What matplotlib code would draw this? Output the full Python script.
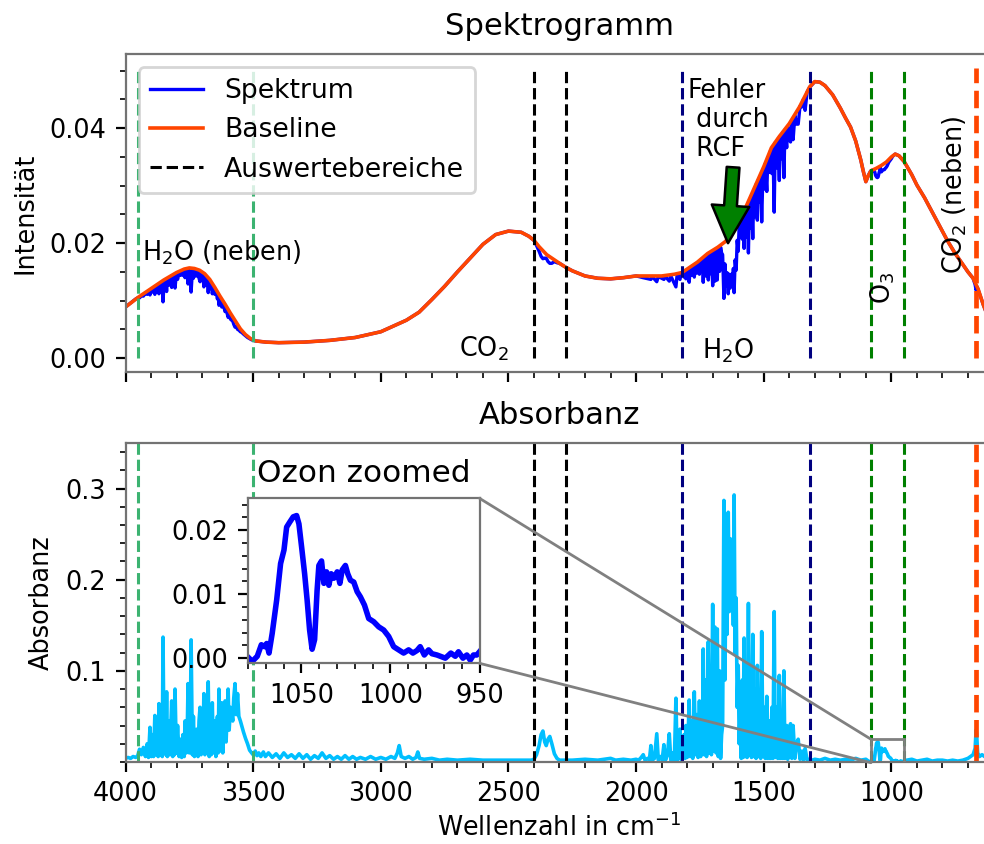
import numpy as np
import matplotlib
matplotlib.use('Agg')
import matplotlib.pyplot as plt
from matplotlib.ticker import MultipleLocator
from matplotlib.patches import Rectangle, ConnectionPatch

plt.rcParams['font.family'] = ['DejaVu Sans']
plt.rcParams['font.size'] = 9.2
plt.rcParams['mathtext.default'] = 'regular'

# ---------------- data ----------------
baseline_wn = [4000, 3950, 3900, 3850, 3800, 3770, 3750, 3730, 3710, 3690, 3670, 3650, 3630, 3610,
               3590, 3570, 3550, 3530, 3510, 3490, 3450, 3400, 3300, 3200, 3100, 3000, 2950, 2900,
               2850, 2800, 2750, 2700, 2650, 2600, 2550, 2500, 2450, 2420, 2400, 2380, 2350, 2300,
               2275, 2250, 2200, 2150, 2100, 2050, 2000, 1950, 1900, 1850, 1820, 1800, 1760, 1720,
               1680, 1650, 1620, 1600, 1570, 1540, 1500, 1470, 1440, 1400, 1360, 1320, 1300, 1280,
               1260, 1230, 1200, 1180, 1160, 1140, 1120, 1110, 1100, 1090, 1080, 1060, 1040, 1020,
               1000, 985, 970, 950, 920, 900, 870, 840, 810, 780, 750, 720, 700, 680, 660, 640, 620, 600]
baseline_val = [0.0089, 0.0106, 0.0121, 0.0136, 0.0149, 0.0155, 0.0157, 0.0156, 0.0153, 0.0147, 0.0137,
                0.0123, 0.0108, 0.0094, 0.0079, 0.0065, 0.0051, 0.0041, 0.0034, 0.0030, 0.0028, 0.0027,
                0.0028, 0.0031, 0.0036, 0.0046, 0.0056, 0.0066, 0.0080, 0.0102, 0.0125, 0.0150, 0.0174,
                0.0198, 0.0215, 0.0221, 0.0219, 0.0212, 0.0205, 0.0194, 0.0180, 0.0165, 0.0158, 0.0152,
                0.0143, 0.0139, 0.0138, 0.0140, 0.0143, 0.0143, 0.0143, 0.0146, 0.0149, 0.0155, 0.0167,
                0.0182, 0.0193, 0.0203, 0.0220, 0.0238, 0.0263, 0.0293, 0.0333, 0.0366, 0.0385, 0.0408,
                0.0437, 0.0472, 0.0481, 0.0480, 0.0474, 0.0458, 0.0435, 0.0418, 0.0402, 0.0378, 0.0345,
                0.0325, 0.0307, 0.0318, 0.0326, 0.0330, 0.0335, 0.0341, 0.0350, 0.0355, 0.0352, 0.0342,
                0.0319, 0.0301, 0.0279, 0.0254, 0.0229, 0.0204, 0.0182, 0.0163, 0.0150, 0.0139, 0.0120,
                0.0093, 0.0070, 0.0050]

spectrum_wn = [4000, 3960, 3952, 3945, 3938, 3930, 3922, 3915, 3910, 3904, 3899, 3894, 3890, 3885, 3880,
               3875, 3872, 3869, 3864, 3858, 3856, 3853, 3849, 3844, 3842, 3839, 3836, 3830, 3826, 3819,
               3815, 3810, 3808, 3806, 3801, 3796, 3790, 3785, 3780, 3775, 3770, 3767, 3762, 3758, 3755,
               3750, 3746, 3743, 3738, 3734, 3730, 3726, 3721, 3716, 3712, 3708, 3704, 3700, 3697, 3693,
               3689, 3684, 3680, 3676, 3672, 3668, 3664, 3660, 3656, 3650, 3646, 3640, 3637, 3634, 3629,
               3623, 3619, 3614, 3610, 3606, 3602, 3598, 3594, 3589, 3584, 3580, 3576, 3571, 3566, 3561,
               3556, 3550, 3545, 3538, 3530, 3522, 3514, 3506, 3500, 3490, 3450, 3400, 3300, 3200, 3100,
               3000, 2950, 2900, 2850, 2800, 2750, 2700, 2650, 2600, 2550, 2500, 2450, 2420, 2400, 2390,
               2380, 2372, 2365, 2358, 2352, 2345, 2338, 2330, 2320, 2310, 2300, 2275, 2250, 2200, 2150,
               2100, 2050, 2000, 1990, 1972, 1942, 1937, 1919, 1913, 1891, 1885, 1870, 1864, 1844, 1839,
               1828, 1823, 1812, 1808, 1805, 1800, 1792, 1788, 1783, 1778, 1772, 1767, 1762, 1757, 1752,
               1747, 1742, 1740, 1737, 1733, 1728, 1724, 1717, 1713, 1709, 1705, 1700, 1696, 1691, 1687,
               1682, 1678, 1673, 1669, 1665, 1661, 1656, 1652, 1648, 1644, 1639, 1635, 1631, 1627, 1622,
               1619, 1616, 1612, 1608, 1604, 1600, 1596, 1592, 1588, 1584, 1581, 1577, 1573, 1569, 1565,
               1560, 1556, 1552, 1548, 1543, 1539, 1534, 1530, 1525, 1521, 1516, 1512, 1508, 1503, 1498,
               1494, 1488, 1484, 1478, 1474, 1468, 1464, 1459, 1455, 1449, 1445, 1439, 1435, 1430, 1426,
               1421, 1417, 1410, 1406, 1400, 1395, 1390, 1385, 1378, 1372, 1365, 1358, 1350, 1345, 1338,
               1330, 1320, 1300, 1280, 1260, 1230, 1200, 1180, 1160, 1140, 1120, 1110, 1100, 1090, 1082,
               1075, 1070, 1066, 1064, 1062, 1058, 1055, 1052, 1050, 1048, 1046, 1044, 1041, 1039, 1036,
               1033, 1030, 1027, 1024, 1020, 1017, 1014, 1010, 1005, 1000, 995, 985, 970, 950, 920, 900,
               870, 840, 810, 780, 750, 720, 700, 680, 672, 668, 664, 660, 640, 620, 600]
spectrum_val = [0.0089, 0.0103, 0.0105, 0.0105, 0.0108, 0.0108, 0.0113, 0.0111, 0.0117, 0.0110, 0.0119,
                0.0115, 0.0122, 0.0111, 0.0125, 0.0117, 0.0127, 0.0112, 0.0130, 0.0125, 0.0132, 0.0098,
                0.0133, 0.0123, 0.0136, 0.0116, 0.0138, 0.0127, 0.0139, 0.0123, 0.0143, 0.0133, 0.0144,
                0.0122, 0.0146, 0.0137, 0.0149, 0.0144, 0.0151, 0.0144, 0.0153, 0.0140, 0.0152, 0.0144,
                0.0129, 0.0153, 0.0143, 0.0115, 0.0153, 0.0139, 0.0154, 0.0143, 0.0143, 0.0152, 0.0139,
                0.0133, 0.0149, 0.0138, 0.0146, 0.0124, 0.0144, 0.0128, 0.0139, 0.0114, 0.0136, 0.0121,
                0.0131, 0.0112, 0.0124, 0.0111, 0.0118, 0.0103, 0.0110, 0.0092, 0.0104, 0.0089, 0.0098,
                0.0088, 0.0081, 0.0087, 0.0078, 0.0071, 0.0076, 0.0068, 0.0066, 0.0065, 0.0059, 0.0054,
                0.0055, 0.0050, 0.0049, 0.0046, 0.0045, 0.0042, 0.0039, 0.0036, 0.0034, 0.0032, 0.0031,
                0.0030, 0.0028, 0.0027, 0.0028, 0.0031, 0.0036, 0.0046, 0.0056, 0.0066, 0.0080, 0.0102,
                0.0125, 0.0150, 0.0174, 0.0198, 0.0215, 0.0221, 0.0219, 0.0212, 0.0205, 0.0196, 0.0186,
                0.0177, 0.0173, 0.0174, 0.0174, 0.0168, 0.0165, 0.0165, 0.0168, 0.0166, 0.0165, 0.0158,
                0.0152, 0.0143, 0.0139, 0.0138, 0.0140, 0.0143, 0.0142, 0.0140, 0.0137, 0.0142, 0.0133,
                0.0142, 0.0137, 0.0142, 0.0134, 0.0143, 0.0124, 0.0146, 0.0137, 0.0148, 0.0141, 0.0151,
                0.0138, 0.0154, 0.0132, 0.0156, 0.0144, 0.0160, 0.0141, 0.0162, 0.0148, 0.0167, 0.0146,
                0.0170, 0.0151, 0.0171, 0.0132, 0.0174, 0.0143, 0.0178, 0.0136, 0.0180, 0.0147, 0.0184,
                0.0126, 0.0184, 0.0134, 0.0187, 0.0136, 0.0190, 0.0151, 0.0193, 0.0183, 0.0180, 0.0104,
                0.0164, 0.0126, 0.0149, 0.0112, 0.0146, 0.0122, 0.0146, 0.0128, 0.0156, 0.0114, 0.0171,
                0.0153, 0.0205, 0.0186, 0.0232, 0.0215, 0.0245, 0.0207, 0.0252, 0.0191, 0.0259, 0.0210,
                0.0265, 0.0183, 0.0274, 0.0226, 0.0283, 0.0208, 0.0292, 0.0246, 0.0302, 0.0240, 0.0310,
                0.0272, 0.0320, 0.0237, 0.0328, 0.0294, 0.0338, 0.0290, 0.0349, 0.0323, 0.0360, 0.0321,
                0.0368, 0.0254, 0.0375, 0.0331, 0.0381, 0.0309, 0.0387, 0.0347, 0.0392, 0.0314, 0.0397,
                0.0366, 0.0403, 0.0381, 0.0376, 0.0413, 0.0380, 0.0422, 0.0407, 0.0407, 0.0438, 0.0437,
                0.0450, 0.0431, 0.0463, 0.0471, 0.0481, 0.0480, 0.0474, 0.0458, 0.0435, 0.0418, 0.0402,
                0.0378, 0.0345, 0.0325, 0.0307, 0.0318, 0.0325, 0.0327, 0.0326, 0.0325, 0.0322, 0.0318,
                0.0315, 0.0314, 0.0315, 0.0319, 0.0323, 0.0326, 0.0333, 0.0326, 0.0324, 0.0326, 0.0327,
                0.0328, 0.0328, 0.0330, 0.0332, 0.0334, 0.0337, 0.0341, 0.0344, 0.0347, 0.0351, 0.0355,
                0.0352, 0.0342, 0.0319, 0.0301, 0.0279, 0.0254, 0.0229, 0.0204, 0.0182, 0.0163, 0.0150,
                0.0139, 0.0128, 0.0118, 0.0124, 0.0119, 0.0093, 0.0070, 0.0050]

absorb_hi_wn = [4000, 3990, 3980, 3970, 3960, 3952, 3945, 3938, 3930, 3922, 3915, 3910, 3904, 3899, 3894,
                3890, 3885, 3880, 3875, 3872, 3869, 3864, 3858, 3856, 3853, 3849, 3844, 3842, 3839, 3836,
                3830, 3826, 3819, 3815, 3810, 3808, 3806, 3801, 3796, 3790, 3785, 3780, 3775, 3770, 3767,
                3762, 3758, 3755, 3750, 3746, 3743, 3738, 3734, 3730, 3726, 3721, 3716, 3712, 3708, 3704,
                3700, 3697, 3693, 3689, 3684, 3680, 3676, 3672, 3668, 3664, 3660, 3656, 3650, 3646, 3640,
                3637, 3634, 3629, 3623, 3619, 3614, 3610, 3606, 3602, 3598, 3594, 3589, 3584, 3580, 3576,
                3571, 3566, 3561, 3556, 3550, 3545, 3538, 3530, 3522, 3514, 3506, 3500, 3492, 3485, 3478,
                3470, 3460, 3452, 3440, 3425, 3410, 3395, 3380, 3365, 3350, 3335, 3320, 3305, 3290, 3275,
                3260, 3245, 3230, 3215, 3200, 3185, 3170, 3155, 3140, 3125, 3110, 3095, 3080, 3060, 3040,
                3020, 3000, 2980, 2960, 2945, 2935, 2928, 2920, 2905, 2890, 2875, 2862, 2855, 2848, 2830,
                2800, 2770, 2740, 2700, 2650, 2600, 2550, 2500, 2450, 2410, 2400, 2390, 2380, 2372, 2365,
                2358, 2352, 2345, 2338, 2330, 2320, 2310, 2300, 2280, 2250, 2200, 2150, 2100, 2080, 2050,
                2020, 2000, 1990, 1980, 1972, 1965, 1955, 1948, 1942, 1937, 1928, 1919, 1913, 1905, 1898,
                1891, 1885, 1877, 1870, 1864, 1856, 1850, 1844, 1839, 1833, 1828, 1823, 1818, 1812, 1808,
                1805, 1800, 1796, 1792, 1788, 1783, 1778, 1772, 1767, 1762, 1757, 1752, 1747, 1742, 1740,
                1737, 1733, 1728, 1724, 1717, 1713, 1709, 1705, 1700, 1696, 1691, 1687, 1682, 1678, 1673,
                1669, 1665, 1661, 1656, 1652, 1648, 1644, 1639, 1635, 1631, 1627, 1622, 1619, 1616, 1612,
                1608, 1604, 1600, 1596, 1592, 1588, 1584, 1581, 1577, 1573, 1569, 1565, 1560, 1556, 1552,
                1548, 1543, 1539, 1534, 1530, 1525, 1521, 1516, 1512, 1508, 1503, 1498, 1494, 1488, 1484,
                1478, 1474, 1468, 1464, 1459, 1455, 1449, 1445, 1439, 1435, 1430, 1426, 1421, 1417, 1410,
                1406, 1400, 1395, 1390, 1385, 1378, 1372, 1365, 1358, 1350, 1345, 1338, 1330, 1320, 1310,
                1300, 1280, 1260, 1240, 1220, 1200, 1180, 1160, 1140, 1120, 1100, 1090, 1082]
absorb_hi_val = [0.004, 0.005, 0.004, 0.006, 0.005, 0.007, 0.014, 0.008, 0.016, 0.006, 0.020, 0.005, 0.038,
                 0.006, 0.030, 0.006, 0.051, 0.008, 0.040, 0.006, 0.064, 0.008, 0.030, 0.006, 0.137, 0.010,
                 0.050, 0.008, 0.077, 0.006, 0.045, 0.008, 0.067, 0.006, 0.040, 0.008, 0.080, 0.010, 0.040,
                 0.006, 0.025, 0.005, 0.030, 0.006, 0.045, 0.010, 0.035, 0.086, 0.010, 0.040, 0.134, 0.008,
                 0.050, 0.006, 0.035, 0.036, 0.006, 0.045, 0.060, 0.008, 0.035, 0.010, 0.075, 0.008, 0.050,
                 0.010, 0.088, 0.006, 0.050, 0.008, 0.065, 0.010, 0.045, 0.006, 0.050, 0.010, 0.080, 0.012,
                 0.065, 0.010, 0.040, 0.067, 0.022, 0.050, 0.080, 0.035, 0.060, 0.053, 0.045, 0.070, 0.086,
                 0.052, 0.075, 0.050, 0.045, 0.040, 0.033, 0.026, 0.020, 0.013, 0.010, 0.008, 0.012, 0.007,
                 0.010, 0.006, 0.011, 0.006, 0.010, 0.005, 0.009, 0.004, 0.010, 0.005, 0.008, 0.004, 0.009,
                 0.004, 0.008, 0.003, 0.007, 0.004, 0.010, 0.004, 0.007, 0.003, 0.006, 0.003, 0.007, 0.003,
                 0.006, 0.003, 0.005, 0.003, 0.006, 0.003, 0.005, 0.003, 0.006, 0.004, 0.010, 0.018, 0.006,
                 0.004, 0.006, 0.003, 0.005, 0.011, 0.004, 0.003, 0.004, 0.002, 0.003, 0.002, 0.003, 0.002,
                 0.002, 0.002, 0.002, 0.002, 0.003, 0.008, 0.018, 0.030, 0.034, 0.022, 0.018, 0.025, 0.028,
                 0.020, 0.009, 0.004, 0.002, 0.002, 0.002, 0.003, 0.002, 0.004, 0.002, 0.003, 0.002, 0.003,
                 0.002, 0.005, 0.008, 0.002, 0.004, 0.002, 0.018, 0.002, 0.004, 0.031, 0.002, 0.006, 0.002,
                 0.019, 0.002, 0.008, 0.031, 0.002, 0.010, 0.002, 0.070, 0.002, 0.015, 0.036, 0.002, 0.012,
                 0.030, 0.004, 0.040, 0.005, 0.030, 0.068, 0.006, 0.045, 0.004, 0.077, 0.008, 0.052, 0.005,
                 0.067, 0.006, 0.060, 0.010, 0.124, 0.008, 0.090, 0.006, 0.132, 0.010, 0.105, 0.008, 0.173,
                 0.012, 0.148, 0.010, 0.146, 0.006, 0.100, 0.004, 0.030, 0.040, 0.287, 0.090, 0.210, 0.140,
                 0.274, 0.165, 0.245, 0.170, 0.230, 0.150, 0.293, 0.120, 0.180, 0.060, 0.106, 0.020, 0.060,
                 0.004, 0.090, 0.005, 0.136, 0.006, 0.100, 0.005, 0.174, 0.008, 0.090, 0.005, 0.140, 0.006,
                 0.080, 0.004, 0.106, 0.006, 0.070, 0.004, 0.143, 0.006, 0.060, 0.004, 0.072, 0.004, 0.045,
                 0.004, 0.060, 0.004, 0.165, 0.005, 0.060, 0.004, 0.095, 0.004, 0.050, 0.004, 0.100, 0.004,
                 0.040, 0.003, 0.030, 0.042, 0.004, 0.040, 0.004, 0.020, 0.025, 0.003, 0.012, 0.002, 0.015,
                 0.002, 0.003, 0.002, 0.003, 0.002, 0.004, 0.002, 0.003, 0.002, 0.003, 0.002, 0.004, 0.002,
                 0.003, 0.001, 0.000]

ozone_wn = [1079.4, 1077.6, 1074.8, 1072.5, 1070.7, 1069.5, 1068.2, 1066.4, 1063.9, 1061.7, 1059.8,
            1058.3, 1056.5, 1054.6, 1052.7, 1051.4, 1049.9, 1048.2, 1046.8, 1045.4, 1044.0, 1042.6,
            1041.2, 1040.2, 1038.7, 1037.4, 1035.9, 1034.6, 1033.3, 1031.8, 1029.9, 1028.4, 1027.1,
            1025.3, 1024.0, 1022.5, 1020.6, 1018.7, 1016.9, 1014.6, 1012.2, 1009.4, 1006.6, 1003.8,
            1001.0, 998.2, 995.4, 992.6, 989.8, 987.4, 985.1, 983.3, 981.0, 978.6, 976.7, 973.9, 972.0,
            969.2, 966.1, 963.6, 961.8, 959.3, 957.1, 955.2, 953.4, 951.5, 950.0]
ozone_val = [0.0000, -0.0005, 0.0003, 0.0021, 0.0018, 0.0023, 0.0008, 0.0039, 0.0091, 0.0148, 0.0169,
             0.0205, 0.0213, 0.0221, 0.0223, 0.0210, 0.0174, 0.0132, 0.0091, 0.0044, 0.0014, 0.0029,
             0.0106, 0.0145, 0.0152, 0.0117, 0.0135, 0.0114, 0.0132, 0.0125, 0.0135, 0.0117, 0.0138,
             0.0145, 0.0132, 0.0122, 0.0119, 0.0104, 0.0096, 0.0083, 0.0062, 0.0057, 0.0049, 0.0044,
             0.0034, 0.0018, 0.0013, 0.0008, 0.0013, 0.0008, 0.0012, 0.0018, 0.0005, 0.0013, 0.0007,
             0.0005, 0.0003, 0.0000, 0.0008, 0.0003, 0.0010, 0.0000, 0.0005, -0.0003, 0.0005, 0.0005,
             0.0010]

absorb_lo_wn = [940, 920, 900, 880, 860, 840, 820, 800, 780, 760, 740, 720, 700, 690, 680, 672, 668,
                666, 662, 655, 645, 630, 610, 600]
absorb_lo_val = [0.002, 0.003, 0.001, 0.002, 0.003, 0.001, 0.002, 0.002, 0.001, 0.002, 0.001, 0.002,
                 0.004, 0.006, 0.008, 0.015, 0.035, 0.030, 0.010, 0.006, 0.008, 0.005, 0.006, 0.005]

h2o_side_range = [3950, 3500]
co2_range = [2400, 2275]
h2o_range = [1820, 1317]
o3_range = [1080, 950]
co2_side_line = [667]

# ---------------- figure ----------------
fig = plt.figure(figsize=(4.92, 4.22), dpi=200)
W, H = 984.0, 844.0
ax1 = fig.add_axes([125.5 / W, 1 - 372 / H, 868 / W, 318 / H])
ax2 = fig.add_axes([125.5 / W, 1 - 762 / H, 868 / W, 319 / H])

spine_col = '0.45'
for ax in (ax1, ax2):
    for s in ax.spines.values():
        s.set_color(spine_col)
        s.set_linewidth(0.8)

dash_lw = 1.1
# top panel
ax1.plot(spectrum_wn, spectrum_val, color='blue', lw=1.2, label='Spektrum')
ax1.plot(baseline_wn, baseline_val, color='orangered', lw=1.3, label='Baseline')

vtop = 0.0505
for x in h2o_side_range:
    ax1.plot([x, x], [0, vtop], color='mediumseagreen', ls='--', lw=dash_lw)
for i, x in enumerate(co2_range):
    ax1.plot([x, x], [0, vtop], color='black', ls='--', lw=dash_lw,
             label='Auswertebereiche' if i == 0 else None)
for x in h2o_range:
    ax1.plot([x, x], [0, vtop], color='navy', ls='--', lw=dash_lw)
for x in o3_range:
    ax1.plot([x, x], [0, vtop], color='green', ls='--', lw=dash_lw)
for x in co2_side_line:
    ax1.plot([x, x], [0, vtop], color='orangered', ls='--', lw=1.7)

ax1.set_xlim(4000, 600)
ax1.set_ylim(-0.0024, 0.0529)
ax1.xaxis.set_major_locator(MultipleLocator(500))
ax1.xaxis.set_minor_locator(MultipleLocator(100))
ax1.yaxis.set_major_locator(MultipleLocator(0.02))
ax1.yaxis.set_minor_locator(MultipleLocator(0.005))
ax1.tick_params(axis='x', labelbottom=False)
ax1.set_ylabel('Intensität')
ax1.set_title('Spektrogramm', pad=7)
ax1.legend(loc='upper left', fontsize=9.6)

ax1.text(3937, 0.0170, 'H$_2$O (neben)', ha='left', va='baseline')
ax1.text(2693, 0.0003, 'CO$_2$', ha='left', va='baseline')
ax1.text(1741, 0.0000, 'H$_2$O', ha='left', va='baseline')
ax1.text(1797, 0.0351, 'Fehler\n durch\n RCF', ha='left', va='baseline', linespacing=1.15)
ax1.annotate('', xy=(1640, 0.0200), xytext=(1620, 0.0332),
             arrowprops=dict(facecolor='green', edgecolor='black', width=4.6,
                             headwidth=13.5, headlength=13.5, shrink=0.0, lw=0.9))
ax1.text(1035, 0.0123, 'O$_3$', rotation=90, ha='center', va='center')
ax1.text(751, 0.0283, 'CO$_2$ (neben)', rotation=90, ha='center', va='center')

# bottom panel
absorb_wn = np.concatenate([absorb_hi_wn, ozone_wn, absorb_lo_wn])
absorb_val = np.concatenate([absorb_hi_val, ozone_val, absorb_lo_val])
ax2.plot(absorb_wn, absorb_val, color='deepskyblue', lw=1.3)

vb = 0.5
for x in h2o_side_range:
    ax2.plot([x, x], [0, vb], color='mediumseagreen', ls='--', lw=dash_lw)
for x in co2_range:
    ax2.plot([x, x], [0, vb], color='black', ls='--', lw=dash_lw)
for x in h2o_range:
    ax2.plot([x, x], [0, vb], color='navy', ls='--', lw=dash_lw)
for x in o3_range:
    ax2.plot([x, x], [0, vb], color='green', ls='--', lw=dash_lw)
for x in co2_side_line:
    ax2.plot([x, x], [0, vb], color='orangered', ls='--', lw=1.7)

ax2.set_xlim(4000, 600)
ax2.set_ylim(0, 0.35)
ax2.xaxis.set_major_locator(MultipleLocator(500))
ax2.xaxis.set_minor_locator(MultipleLocator(100))
ax2.set_yticks([0.1, 0.2, 0.3])
ax2.yaxis.set_minor_locator(MultipleLocator(0.02))
ax2.set_ylabel('Absorbanz')
ax2.set_xlabel('Wellenzahl in cm$^{-1}$', labelpad=2)
ax2.set_title('Absorbanz', pad=7)

# inset
axins = fig.add_axes([248 / W, 1 - 663.3 / H, 231.5 / W, 165 / H])
for s in axins.spines.values():
    s.set_color(spine_col)
    s.set_linewidth(0.8)
axins.plot(ozone_wn, ozone_val, color='blue', lw=2.0)
axins.set_xlim(o3_range[0], o3_range[1])
axins.set_ylim(-0.0008, 0.025)
axins.xaxis.set_major_locator(MultipleLocator(50))
axins.xaxis.set_minor_locator(MultipleLocator(10))
axins.yaxis.set_major_locator(MultipleLocator(0.01))
axins.yaxis.set_minor_locator(MultipleLocator(0.002))
axins.set_title('Ozon zoomed', fontsize=11.2)

y0, y1 = axins.get_ylim()
rect = Rectangle((o3_range[1], y0), o3_range[0] - o3_range[1], y1 - y0,
                 fill=False, edgecolor='0.5', lw=1.0, zorder=5)
ax2.add_patch(rect)
for (fy, dy) in [(1, y1), (0, y0)]:
    con = ConnectionPatch(xyA=(1, fy), coordsA=axins.transAxes,
                          xyB=(o3_range[0], dy), coordsB=ax2.transData,
                          color='0.5', lw=1.0, zorder=6)
    fig.add_artist(con)

fig.savefig('out.png', dpi=200)
